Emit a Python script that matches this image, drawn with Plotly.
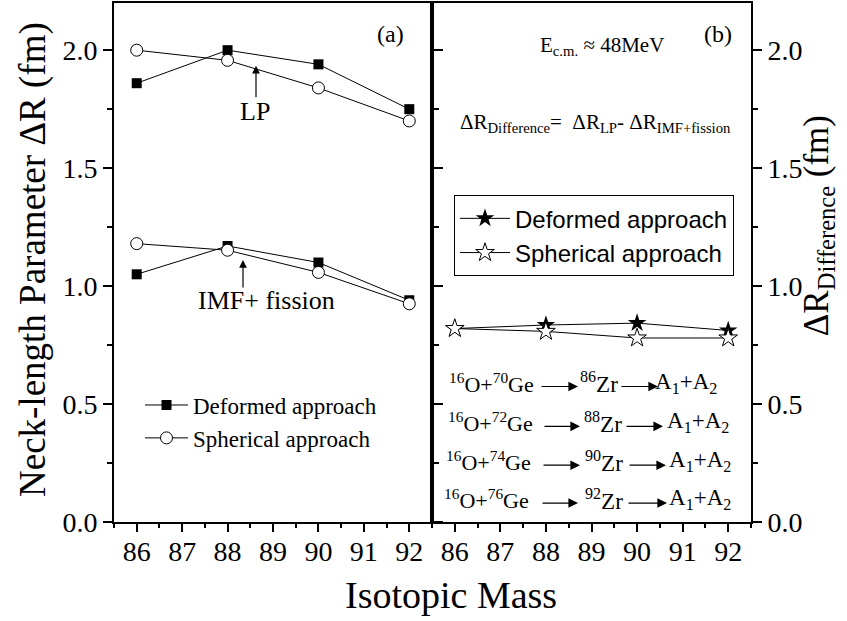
import plotly.graph_objects as go

# ---------------- data ----------------
mass = [86, 88, 90, 92]
lp_deformed = [1.86, 2.00, 1.94, 1.75]
lp_spherical = [2.00, 1.957, 1.84, 1.70]
imf_deformed = [1.05, 1.17, 1.10, 0.94]
imf_spherical = [1.18, 1.152, 1.058, 0.925]
diff_deformed = [0.82, 0.835, 0.843, 0.812]
diff_spherical = [0.82, 0.808, 0.78, 0.78]
x_ticks = [86, 87, 88, 89, 90, 91, 92]
y_ticks = [0.0, 0.5, 1.0, 1.5, 2.0]
y_tick_text = ["0.0", "0.5", "1.0", "1.5", "2.0"]
reactions = [("70", "86"), ("72", "88"), ("74", "90"), ("76", "92")]

W, H = 847, 621
ML, MR, MT, MB = 114, 96, 1, 99
PW, PH = W - ML - MR, H - MT - MB
SERIF = "Liberation Serif"
SANS = "Liberation Sans"


def px(x):
    return (x - ML) / PW


def py(y):
    return (H - MB - y) / PH


fig = go.Figure()

line_style = dict(color="black", width=1)
sq = dict(symbol="square", size=10, color="black")
circ = dict(symbol="circle", size=12, color="white", line=dict(color="black", width=1))

fig.add_trace(go.Scatter(x=mass, y=lp_deformed, mode="lines+markers", line=line_style, marker=sq,
                         name="Deformed approach", legend="legend", xaxis="x", yaxis="y"))
fig.add_trace(go.Scatter(x=mass, y=imf_deformed, mode="lines+markers", line=line_style, marker=sq,
                         name="Deformed approach", showlegend=False, xaxis="x", yaxis="y"))
fig.add_trace(go.Scatter(x=mass, y=lp_spherical, mode="lines+markers", line=line_style, marker=circ,
                         name="Spherical approach", legend="legend", xaxis="x", yaxis="y"))
fig.add_trace(go.Scatter(x=mass, y=imf_spherical, mode="lines+markers", line=line_style, marker=circ,
                         name="Spherical approach", showlegend=False, xaxis="x", yaxis="y"))

fig.add_trace(go.Scatter(x=mass, y=diff_deformed, mode="lines+markers", line=line_style,
                         marker=dict(symbol="star", size=14, color="black"),
                         name="Deformed approach", legend="legend2", xaxis="x2", yaxis="y2"))
fig.add_trace(go.Scatter(x=mass, y=diff_spherical, mode="lines+markers", line=line_style,
                         marker=dict(symbol="star", size=14, color="white", line=dict(color="black", width=1)),
                         name="Spherical approach", legend="legend2", xaxis="x2", yaxis="y2"))

split = (432 - ML) / PW
tickfont = dict(family=SERIF, size=28, color="black")
common_x = dict(range=[85.5, 92.5], tickmode="array", tickvals=x_ticks, ticks="outside", ticklen=8,
                tickwidth=1.5, tickcolor="black", showline=True, linecolor="black", linewidth=2,
                showgrid=False, zeroline=False, tickfont=tickfont, ticklabelstandoff=-5,
                minor=dict(dtick=0.5, tick0=85.5, ticks="outside", ticklen=4, tickcolor="black", tickwidth=1.5, showgrid=False))
common_y = dict(range=[0, 2.2], tickmode="array", tickvals=y_ticks, ticktext=y_tick_text, ticks="outside",
                ticklen=9, tickwidth=1.5, tickcolor="black", showline=True, linecolor="black", linewidth=2,
                showgrid=False, zeroline=False, tickfont=tickfont,
                minor=dict(dtick=0.25, tick0=0, ticks="outside", ticklen=5, tickcolor="black", tickwidth=1.5, showgrid=False))

fig.update_layout(
    width=W, height=H, margin=dict(l=ML, r=MR, t=MT, b=MB),
    paper_bgcolor="white", plot_bgcolor="white",
    font=dict(family=SERIF, size=28, color="black"),
    xaxis=dict(domain=[0, split], anchor="y", mirror=True, **common_x),
    xaxis2=dict(domain=[split, 1], anchor="y2", mirror=True, **common_x),
    yaxis=dict(domain=[0, 1], anchor="x", mirror="allticks", **common_y),
    yaxis2=dict(domain=[0, 1], anchor="x2", side="right", mirror=True, **common_y),
    legend=dict(x=px(140), y=py(383), xanchor="left", yanchor="top", bgcolor="rgba(0,0,0,0)",
                borderwidth=0, font=dict(family=SERIF, size=23, color="black"), itemwidth=43,
                tracegroupgap=0),
    legend2=dict(x=px(454), y=py(194), xanchor="left", yanchor="top", bgcolor="white",
                 bordercolor="black", borderwidth=1, font=dict(family=SANS, size=24, color="black"),
                 itemwidth=50),
    showlegend=True,
)

ann = []


def txt(x, y, text, size, xanchor="center", yanchor="middle", family=SERIF, angle=0):
    ann.append(dict(x=px(x), y=py(y), xref="paper", yref="paper", text=text, showarrow=False,
                    xanchor=xanchor, yanchor=yanchor, textangle=angle,
                    font=dict(family=family, size=size, color="black")))


def arrow(x_tail, y_tail, x_head, y_head, width=1.2, size=1.6):
    ann.append(dict(x=px(x_head), y=py(y_head), xref="paper", yref="paper", text="", showarrow=True,
                    ax=x_tail - x_head, ay=y_tail - y_head, axref="pixel", ayref="pixel",
                    arrowhead=2, arrowsize=size, arrowwidth=width, arrowcolor="black"))


# axis titles
txt(33, 259, "Neck-length Parameter ΔR (fm)", 37, angle=-90)
txt(451, 595, "Isotopic Mass", 38)
txt(818, 225, "ΔR<sub>Difference</sub> (fm)", 35, angle=-90)

# panel labels
txt(390, 32, "(a)", 24)
txt(718, 32, "(b)", 24)

# left panel labels
txt(255, 110, "LP", 26)
arrow(256, 97, 256, 64, size=1.3)
txt(266, 300, "IMF+ fission", 26)
arrow(243, 288, 243, 259, size=1.3)

# right panel text
txt(602, 44, "E<sub>c.m.</sub> ≈ 48MeV", 21)
txt(595, 121, "ΔR<sub>Difference</sub>=  ΔR<sub>LP</sub>- ΔR<sub>IMF+fission</sub>", 21)

row_y = [382, 422, 461, 499]
row_x0 = [447, 446, 444, 442]
zr_x0 = [578, 582, 583, 583]
a_x0 = [653, 665, 667, 667]
arr1 = [(540, 578), (543, 580), (542, 580), (541, 578)]
arr2 = [(620, 658), (625, 663), (628, 666), (627, 667)]
for i, (ge, zr) in enumerate(reactions):
    yy = row_y[i]
    txt(row_x0[i], yy, "<sup>16</sup>O+<sup>%s</sup>Ge" % ge, 22, xanchor="left")
    txt(zr_x0[i], yy, "<sup>%s</sup>Zr" % zr, 23, xanchor="left")
    txt(a_x0[i], yy, "A<sub>1</sub>+A<sub>2</sub>", 23, xanchor="left")
    arrow(arr1[i][0], yy + 4, arr1[i][1], yy + 4)
    arrow(arr2[i][0], yy + 4, arr2[i][1], yy + 4)

fig.update_layout(annotations=ann)

fig.write_html("out.html", config={"displayModeBar": False},
               post_script="document.body.style.margin='0px';")
